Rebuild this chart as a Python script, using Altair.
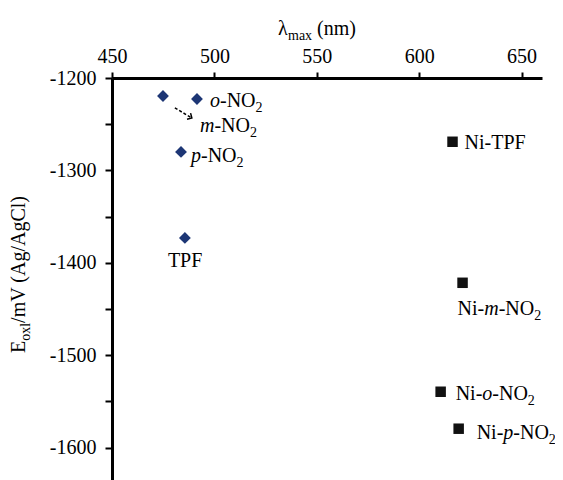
import altair as alt
import pandas as pd

# ---------------- data ----------------
free_names = ["m-NO2", "o-NO2", "p-NO2", "TPF"]
free_lambda = [474.9, 491.5, 483.7, 485.6]
free_eox = [-1219.5, -1222.7, -1280.0, -1373.0]

ni_names = ["Ni-TPF", "Ni-m-NO2", "Ni-o-NO2", "Ni-p-NO2"]
ni_lambda = [616.3, 621.2, 610.5, 619.3]
ni_eox = [-1269.0, -1421.6, -1539.5, -1579.5]

arrow_lambda = [480.7, 489.0]
arrow_eox = [-1232.4, -1243.2]

x_ticks = [450, 500, 550, 600, 650]
y_ticks = [-1200, -1250, -1300, -1350, -1400, -1450, -1500, -1550, -1600]

# ---------------- layout ----------------
X_DOMAIN = [450, 660]
Y_DOMAIN = [-1635, -1200]
W, H = 430, 402
FONT = "Liberation Serif"
FS, SFS = 20, 14
NAVY = "#1d3675"

SX = W / (X_DOMAIN[1] - X_DOMAIN[0])
SY = H / (Y_DOMAIN[1] - Y_DOMAIN[0])

EM_N = {"N": .722, "O": .722, "i": .278, "-": .333, "T": .611, "P": .556, "F": .556,
        " ": .25, "(": .333, ")": .333, "n": .5, "m": .778, "a": .444, "x": .5,
        "/": .278, "V": .722, "A": .722, "g": .5, "C": .667, "l": .278, "E": .611,
        "o": .5, "2": .5, "λ": .5}
EM_I = {"m": .722, "o": .5, "p": .5}


def seg_width(text, style):
    if style == "i":
        return sum(EM_I.get(c, .5) for c in text) * FS
    size = SFS if style == "s" else FS
    return sum(EM_N.get(c, .5) for c in text) * size


label_parts = {
    "m-NO2": [("m", "i"), ("-NO", "n"), ("2", "s")],
    "o-NO2": [("o", "i"), ("-NO", "n"), ("2", "s")],
    "p-NO2": [("p", "i"), ("-NO", "n"), ("2", "s")],
    "TPF": [("TPF", "n")],
    "Ni-TPF": [("Ni-TPF", "n")],
    "Ni-m-NO2": [("Ni-", "n"), ("m", "i"), ("-NO", "n"), ("2", "s")],
    "Ni-o-NO2": [("Ni-", "n"), ("o", "i"), ("-NO", "n"), ("2", "s")],
    "Ni-p-NO2": [("Ni-", "n"), ("p", "i"), ("-NO", "n"), ("2", "s")],
}
# (left start, vertical centre) in pixels relative to the marker
label_offset = {
    "m-NO2": (37, 29), "o-NO2": (13, 1), "p-NO2": (10, 3), "TPF": (-17, 22),
    "Ni-TPF": (12, 0), "Ni-m-NO2": (-5, 25), "Ni-o-NO2": (15, 1), "Ni-p-NO2": (18, 3),
}

free_df = pd.DataFrame({"name": free_names, "lam": free_lambda, "eox": free_eox})
ni_df = pd.DataFrame({"name": ni_names, "lam": ni_lambda, "eox": ni_eox})
arrow_df = pd.DataFrame({"lam": [arrow_lambda[0]], "lam2": [arrow_lambda[1]],
                         "eox": [arrow_eox[0]], "eox2": [arrow_eox[1]]})
head_df = pd.DataFrame({"lam": [arrow_lambda[1]], "eox": [arrow_eox[1]]})

rows = []
for name, lam, eox in zip(free_names + ni_names, free_lambda + ni_lambda, free_eox + ni_eox):
    dx, dy = label_offset[name]
    cur = dx
    for text, style in label_parts[name]:
        base = dy + 7 + (5 if style == "s" else 0)
        rows.append({"text": text, "style": style,
                     "lam": lam + cur / SX, "eox": eox - base / SY})
        cur += seg_width(text, style)
lab_df = pd.DataFrame(rows)

xs = alt.Scale(domain=X_DOMAIN, nice=False, zero=False)
ys = alt.Scale(domain=Y_DOMAIN, nice=False, zero=False)

x_axis = alt.Axis(orient="top", values=x_ticks, format="d", title=None, grid=False,
                  labelFlush=False, labelOverlap=False,
                  labelFont=FONT, labelFontSize=FS, labelColor="black",
                  domainColor="black", domainWidth=3, tickColor="black",
                  tickWidth=2, tickSize=6, labelPadding=6)
y_axis = alt.Axis(values=y_ticks, title=None, grid=False,
                  labelFlush=False, labelOverlap=False,
                  labelExpr="datum.value % 100 == 0 ? '-' + toString(abs(datum.value)) : ''",
                  labelFont=FONT, labelFontSize=FS, labelColor="black",
                  domainColor="black", domainWidth=3, tickColor="black",
                  tickWidth=2, tickSize=7, labelPadding=9)

diamonds = alt.Chart(free_df).mark_point(shape="diamond", filled=True, size=140,
                                          color=NAVY, opacity=1).encode(
    x=alt.X("lam:Q", scale=xs, axis=x_axis),
    y=alt.Y("eox:Q", scale=ys, axis=y_axis),
)
squares = alt.Chart(ni_df).mark_point(shape="square", filled=True, size=110,
                                       color="#111111", opacity=1).encode(
    x=alt.X("lam:Q", scale=xs), y=alt.Y("eox:Q", scale=ys))

arrow = alt.Chart(arrow_df).mark_rule(color="black", strokeWidth=1.5,
                                      strokeDash=[3, 2]).encode(
    x=alt.X("lam:Q", scale=xs), x2="lam2:Q",
    y=alt.Y("eox:Q", scale=ys), y2="eox2:Q")
head = alt.Chart(head_df).mark_point(shape="M-1,-1L0,0L-1,1", filled=False, size=50,
                                     angle=30, color="black", strokeWidth=1.5,
                                     opacity=1).encode(
    x=alt.X("lam:Q", scale=xs), y=alt.Y("eox:Q", scale=ys))

layers = [diamonds, squares, arrow, head]
for style, size, fstyle in [("n", FS, "normal"), ("i", FS, "italic"), ("s", SFS, "normal")]:
    layers.append(
        alt.Chart(lab_df).transform_filter(alt.datum.style == style).mark_text(
            align="left", baseline="alphabetic", font=FONT, fontSize=size,
            fontStyle=fstyle, color="black").encode(
            x=alt.X("lam:Q", scale=xs), y=alt.Y("eox:Q", scale=ys), text="text:N"))

# axis titles drawn as text pieces (for subscripts)
one = pd.DataFrame({"a": [0]})
title_segs = []
tx, ty = 166, -43
for text, style, gap in [("λ", "n", 0), ("max", "s", 5), ("(nm)", "n", 0)]:
    title_segs.append((text, tx, ty + (5 if style == "s" else 0), style, 0))
    tx += seg_width(text, style) + gap
yx, yy = -87, 275
for text, style, gap in [("E", "n", 0), ("oxl", "s", 0), ("/mV (Ag/AgCl)", "n", 0)]:
    title_segs.append((text, yx + (5 if style == "s" else 0), yy, style, 270))
    yy -= seg_width(text, style) + gap

for text, px, py, style, ang in title_segs:
    layers.append(alt.Chart(one).mark_text(
        text=text, align="left", baseline="alphabetic", font=FONT,
        fontSize=SFS if style == "s" else FS, angle=ang, color="black").encode(
        x=alt.value(px), y=alt.value(py)))

chart = alt.layer(*layers).properties(
    width=W, height=H,
    autosize=alt.AutoSizeParams(type="none"),
    padding={"left": 104, "top": 70, "right": 13, "bottom": 0},
    background="white",
).configure_view(stroke=None)

chart.save("out.html", embed_options={"renderer": "svg", "actions": False})
